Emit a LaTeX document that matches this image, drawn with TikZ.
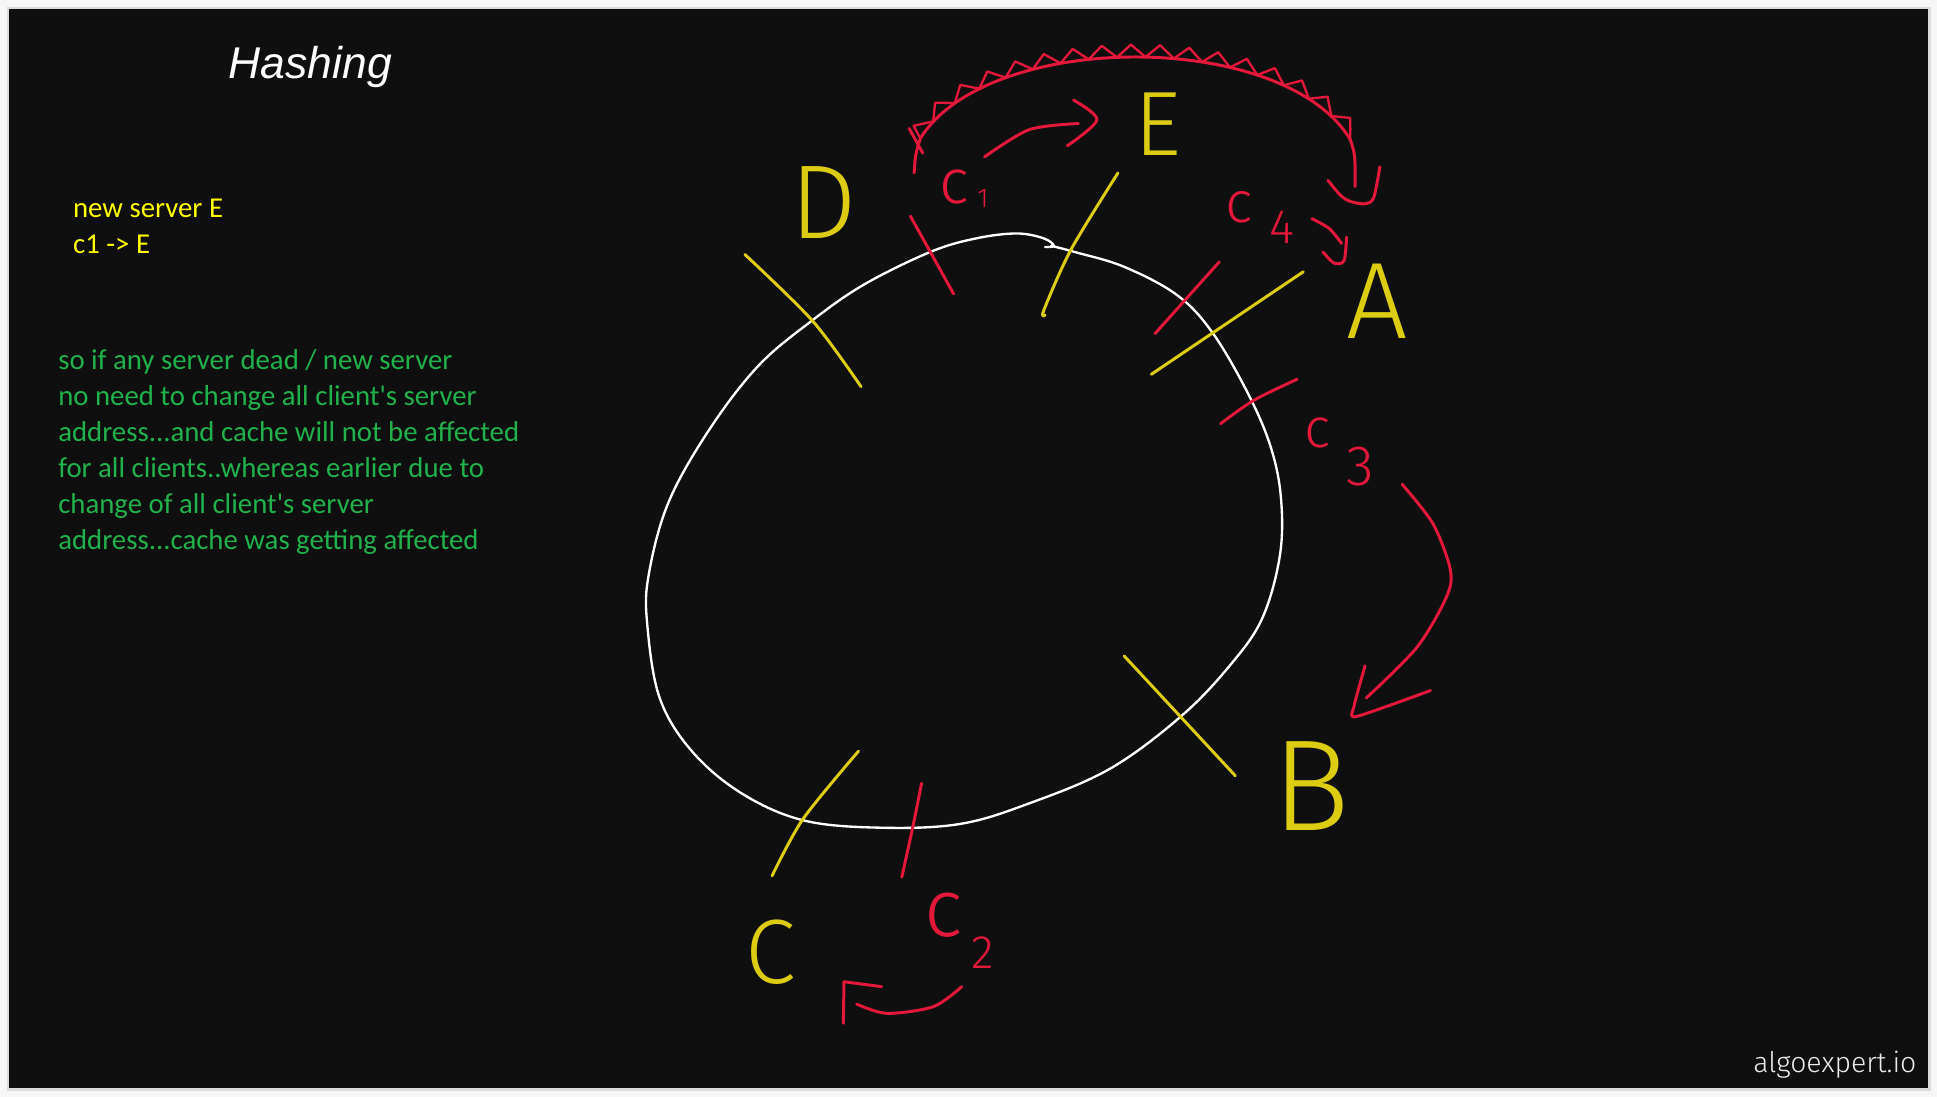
\documentclass[tikz,border=0pt]{standalone}
\usepackage{fontspec}
\setmainfont{Carlito}
\newfontfamily\notefont{Carlito}
\newfontfamily\titlefont{Liberation Sans}
\newfontfamily\handfont{Fira Sans Light}
\usetikzlibrary{decorations.pathmorphing}

\definecolor{paper}{RGB}{246,246,246}
\definecolor{board}{RGB}{15,15,15}
\definecolor{inkyellow}{RGB}{221,205,18}
\definecolor{inkred}{RGB}{228,24,58}
\definecolor{noteyellow}{RGB}{255,255,0}
\definecolor{notegreen}{RGB}{34,178,76}

\tikzset{
  ring/.style={white, line width=1.9pt, line cap=round},
  yink/.style={inkyellow, line width=2.4pt, line cap=round, line join=round},
  rink/.style={inkred, line width=2.4pt, line cap=round, line join=round},
  note/.style={anchor=base west, inner sep=0pt, font=\notefont\fontsize{23.3}{28}\selectfont},
  hand/.style={anchor=base west, inner sep=0pt},
}

\begin{document}
\begin{tikzpicture}[x=1pt, y=-1pt]
  \useasboundingbox (0,0) rectangle (1568,888);
  % Pizarra
  \fill[paper] (0,0) rectangle (1568,888);
  \fill[black!14] (6,6) rectangle (1563.5,883.5);
  \fill[board] (7.3,7.3) rectangle (1560.8,880.7);

  % Titulo
  \node[anchor=base west, inner sep=0pt, text=white,
        font=\titlefont\itshape\fontsize{36}{36}\selectfont] (title) at (185,63.4) {Hashing};

  % Notas
  \node[note, text=noteyellow] (noteA) at (59,175.9) {new server E};
  \node[note, text=noteyellow] (noteB) at (59,205)   {c1 -> E};
  \node[note, text=notegreen] (why1) at (47,299.5) {so if any server dead / new server};
  \node[note, text=notegreen] (why2) at (47,328.6) {no need to change all client's server};
  \node[note, text=notegreen] (why3) at (47,357.7) {address...and cache will not be affected};
  \node[note, text=notegreen] (why4) at (47,386.8) {for all clients..whereas earlier due to};
  \node[note, text=notegreen] (why5) at (47,415.9) {change of all client's server};
  \node[note, text=notegreen] (why6) at (47,445)   {address...cache was getting affected};

  % Anillo
  \draw[ring] plot[smooth, tension=0.6] coordinates {(851,199) (870,204) (910,216)
    (953,239) (982,270) (1011,320) (1029,363) (1037,404) (1036,450) (1022,500)
    (997,537) (957,579) (899,622) (834,650) (777,667) (712,670) (650,664) (600,642)
    (560,608) (534,565) (524,506) (525,466) (541,407) (574,348) (614,296) (658,259)
    (700,230) (753,204) (790,193) (823,189) (845,193) (853,199) (846,200)};

  % Servidores (marcas)
  \draw[yink] plot[smooth] coordinates {(603,206) (658,260) (697,313)};          % D
  \draw[yink] plot[smooth] coordinates {(905,140) (867,202) (845,251) (846,255)}; % E
  \draw[yink] (1055,220) -- (932,303);                                          % A
  \draw[yink] (910,531) -- (1000,628);                                          % B
  \draw[yink] plot[smooth] coordinates {(695,608) (650,663) (625,709)};         % C

  % Clientes (marcas)
  \draw[rink] (737,175) -- (772,238);                                           % c1
  \draw[rink] (987,212) -- (935,270);                                           % c4
  \draw[rink] plot[smooth] coordinates {(1050,307) (1015,324) (988,343)};       % c3
  \draw[rink] plot[smooth] coordinates {(746,634) (739,669) (730,710)};         % c2

  % Letras de servidores
  \node[hand, text=inkyellow, font=\handfont\fontsize{85}{85}\selectfont]  (srvD) at (640,193) {D};
  \node[hand, text=inkyellow, font=\handfont\fontsize{74}{74}\selectfont]  (srvE) at (918,126) {E};
  \node[hand, text=inkyellow, font=\handfont\fontsize{88}{88}\selectfont]  (srvA) at (1090,274) {A};
  \node[hand, text=inkyellow, font=\handfont\fontsize{105}{105}\selectfont] (srvB) at (1030,672) {B};
  \node[hand, text=inkyellow, font=\handfont\fontsize{74}{74}\selectfont]  (srvC) at (603,796) {C};

  % Etiquetas de clientes
  \node[hand, text=inkred, font=\handfont\fontsize{51}{51}\selectfont] (cliOne) at (760,164.6)
    {c\hspace{7pt}\raisebox{-3.5pt}{\fontsize{22}{22}\selectfont 1}};
  \node[hand, text=inkred, font=\handfont\fontsize{47}{47}\selectfont] (cliFour) at (992,180)
    {c\hspace{13pt}\raisebox{-17pt}{\fontsize{39}{39}\selectfont 4}};
  \node[hand, text=inkred, font=\handfont\fontsize{45}{45}\selectfont] (cliThree) at (1056,362)
    {c\hspace{13pt}\raisebox{-31pt}{\fontsize{46}{46}\selectfont 3}};
  \node[hand, text=inkred, font=\handfont\fontsize{66}{66}\selectfont] (cliTwo) at (748,758)
    {c\hspace{7pt}\raisebox{-26pt}{\fontsize{38}{38}\selectfont 2}};

  % Arco tachado c1 -> A
  \draw[rink] (740,140) .. controls (741,125) .. (745,112)
    .. controls (800,24) and (1040,24) .. (1093,113) .. controls (1097,125) .. (1097,151);
  \draw[rink, line width=1.9pt, decorate,
        decoration={zigzag, segment length=23pt, amplitude=5pt, raise=5pt}]
    (745,112) .. controls (800,24) and (1040,24) .. (1093,113);
  \draw[rink] (736,104) -- (747,124);
  \draw[rink] plot[smooth] coordinates {(1075,146) (1085,158) (1093,163) (1105,165)
    (1112,160) (1117,135)};

  % Flecha c1 -> E
  \draw[rink] plot[smooth] coordinates {(797,127) (833,105) (873,100)};
  \draw[rink] plot[smooth, tension=0.5] coordinates {(869,81) (888,97) (864,118)};

  % Flecha c4 -> A
  \draw[rink] plot[smooth] coordinates {(1062,177) (1076,185) (1086,197)};
  \draw[rink] plot[smooth] coordinates {(1071,204) (1080,213) (1088,211) (1090,192)};

  % Flecha c3 -> B
  \draw[rink] plot[smooth] coordinates {(1135,392) (1160,424) (1174,461) (1171,483)
    (1147,524) (1106,565)};
  \draw[rink] plot[smooth, tension=0.4] coordinates {(1105,539) (1096,572) (1098,580)
    (1158,559)};

  % Flecha c2 -> C
  \draw[rink] plot[smooth] coordinates {(778.5,798.7) (755.5,814.9) (717.8,820.3)
    (693.5,812.8)};
  \draw[rink] (682.7,828.4) -- (683.2,794.7) -- (713.7,798.7);

  % Marca
  \node[anchor=base east, inner sep=0pt, text=black!8,
        font=\handfont\fontsize{23}{23}\selectfont] (brand) at (1551.5,868.3) {algoexpert.io};
\end{tikzpicture}
\end{document}
